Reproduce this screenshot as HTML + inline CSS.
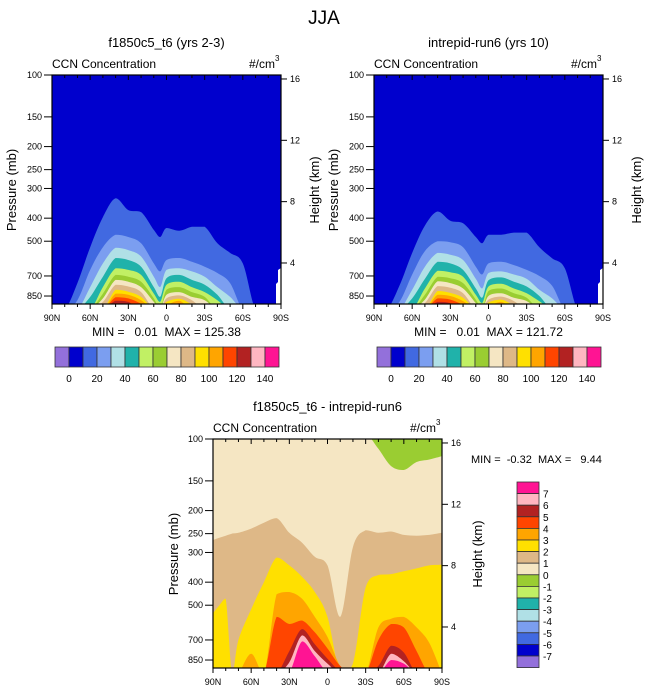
<!DOCTYPE html>
<html><head><meta charset="utf-8"><style>
body{margin:0;background:#fff;}
svg{display:block;font-family:"Liberation Sans",sans-serif;}
svg text{white-space:pre;}
</style></head><body>
<svg id="chart" width="648" height="694" viewBox="0 0 648 694" xmlns="http://www.w3.org/2000/svg">
<text x="324" y="24" text-anchor="middle" font-size="19">JJA</text>
</svg>
<script>
// ---------- data ----------
const latsTop = [90,80,70,60,50,40,30,20,10,5,0,-10,-20,-30,-40,-50,-60,-70,-80,-90];
const levelLabelsTop = ["0","20","40","60","80","100","120","140"];
const colorsTop = ["#9370DB","#0000CD","#4169E1","#7B9EF0","#B0E0E6","#20B2AA","#C1F064","#9ACD32","#F5E6C3","#DEB887","#FFE000","#FFA500","#FF4500","#B22222","#FFB6C1","#FF1493"];
// pressure (mb) of top of region exceeding level 10,20,...,120 ; 1000 = absent
const p1L10 = [1000,1000,750,530,396,330,370,377,448,480,440,452,435,435,510,560,620,1000,1000,1000];
const p1L20 = [1000,1000,885,660,530,470,480,510,620,670,600,588,610,640,680,750,1000,1000,1000,1000];
const p1L30 = [1000,1000,1000,780,620,533,545,580,705,780,660,650,670,705,780,857,1000,1000,1000,1000];
const p1L40 = [1000,1000,1000,857,705,588,600,640,780,857,715,693,727,762,840,1000,1000,1000,1000,1000];
const p1L50 = [1000,1000,1000,1000,780,650,660,693,830,900,762,740,780,818,885,1000,1000,1000,1000,1000];
const p1L60 = [1000,1000,1000,1000,830,693,705,740,870,1000,800,780,818,857,1000,1000,1000,1000,1000,1000];
const p1L70 = [1000,1000,1000,1000,870,727,740,780,900,1000,840,818,857,885,1000,1000,1000,1000,1000,1000];
const p1L80 = [1000,1000,1000,1000,900,762,775,818,1000,1000,870,845,885,1000,1000,1000,1000,1000,1000,1000];
const p1L90 = [1000,1000,1000,1000,1000,800,815,857,1000,1000,900,872,920,1000,1000,1000,1000,1000,1000,1000];
const p1L100 = [1000,1000,1000,1000,1000,830,840,885,1000,1000,930,890,1000,1000,1000,1000,1000,1000,1000,1000];
const p1L110 = [1000,1000,1000,1000,1000,860,870,915,1000,1000,1000,910,1000,1000,1000,1000,1000,1000,1000,1000];
const p1L120 = [1000,1000,1000,1000,1000,890,900,1000,1000,1000,1000,940,1000,1000,1000,1000,1000,1000,1000,1000];

const p2L10 = [1000,1000,770,560,430,375,410,420,480,510,470,470,460,460,530,590,650,1000,1000,1000];
const p2L20 = [1000,1000,900,690,550,500,505,530,640,690,620,610,630,660,700,770,1000,1000,1000,1000];
const p2L30 = [1000,1000,1000,800,640,560,570,600,720,790,680,670,690,720,800,870,1000,1000,1000,1000];
const p2L40 = [1000,1000,1000,870,720,610,620,660,790,865,730,710,740,775,850,1000,1000,1000,1000,1000];
const p2L50 = [1000,1000,1000,1000,790,665,675,705,840,910,775,755,790,828,895,1000,1000,1000,1000,1000];
const p2L60 = [1000,1000,1000,1000,840,705,715,750,880,1000,810,790,828,865,1000,1000,1000,1000,1000,1000];
const p2L70 = [1000,1000,1000,1000,880,737,750,790,910,1000,850,828,865,893,1000,1000,1000,1000,1000,1000];
const p2L80 = [1000,1000,1000,1000,910,772,785,828,1000,1000,880,855,893,1000,1000,1000,1000,1000,1000,1000];
const p2L90 = [1000,1000,1000,1000,1000,810,825,865,1000,1000,905,880,930,1000,1000,1000,1000,1000,1000,1000];
const p2L100 = [1000,1000,1000,1000,1000,840,850,893,1000,1000,940,900,1000,1000,1000,1000,1000,1000,1000,1000];
const p2L110 = [1000,1000,1000,1000,1000,870,880,925,1000,1000,1000,920,1000,1000,1000,1000,1000,1000,1000,1000];
const p2L120 = [1000,1000,1000,1000,1000,900,910,1000,1000,1000,1000,950,1000,1000,1000,1000,1000,1000,1000,1000];

const latsDiff = [90,85,80,75,70,60,50,40,30,20,10,0,-10,-20,-30,-40,-50,-60,-70,-80,-90];
const colorsDiff = ["#9370DB","#0000CD","#4169E1","#7B9EF0","#B0E0E6","#20B2AA","#C1F064","#9ACD32","#F5E6C3","#DEB887","#FFE000","#FFA500","#FF4500","#B22222","#FFB6C1","#FF1493"];
const levelLabelsDiff = ["7","6","5","4","3","2","1","0","-1","-2","-3","-4","-5","-6","-7"];
const dNeg = [90,90,90,90,90,90,90,90,90,90,90,90,90,90,90,110,130,135,125,122,118]; // region < 0 above this pressure
const dL1 = [266,260,255,250,248,238,225,215,248,273,313,340,560,285,242,248,245,253,255,253,248];
const dL2 = [540,500,470,1000,700,520,400,315,340,380,440,560,1000,880,420,373,370,360,350,340,338];
const dL3 = [1000,1000,1000,1000,1000,800,1000,450,440,470,560,680,900,1000,1000,620,570,560,620,720,1000];
const dL4 = [1000,1000,1000,1000,1000,1000,1000,560,600,580,650,760,900,1000,1000,700,600,620,780,1000,1000];
const dL5 = [1000,1000,1000,1000,1000,1000,1000,1000,780,630,730,840,950,1000,1000,900,740,790,1000,1000,1000];
const dL6 = [1000,1000,1000,1000,1000,1000,1000,1000,870,670,780,880,1000,1000,1000,1000,800,860,1000,1000,1000];
const dL7 = [1000,1000,1000,1000,1000,1000,1000,1000,960,710,820,960,1000,1000,1000,1000,850,880,1000,1000,1000];

const pressTicks = [100,150,200,250,300,400,500,700,850];
const kmTicks = [4,8,12,16];
const latTicks = [90,60,30,0,-30,-60,-90];
const latTickLabels = ["90N","60N","30N","0","30S","60S","90S"];

// ---------- drawing ----------
const NS = "http://www.w3.org/2000/svg";
const svg = document.getElementById("chart");
function mk(tag, attrs, parent){const e=document.createElementNS(NS,tag);for(const k in attrs)e.setAttribute(k,attrs[k]);(parent||svg).appendChild(e);return e;}
const PSCALE = 237.8;
let clipId = 0;

function makeAxes(x0,y0,w){
  return {
    x: lat => x0 + (90-lat)/180*w,
    y: p => y0 + PSCALE*Math.log10(p/100),
    yKm: z => y0 + PSCALE*Math.log10(11.18) - PSCALE*z/(6.735*Math.LN10)
  };
}
function smoothPath(pts){
  let d = "M"+pts[0][0]+","+pts[0][1];
  for(let i=0;i<pts.length-1;i++){
    const p0=pts[Math.max(0,i-1)],p1=pts[i],p2=pts[i+1],p3=pts[Math.min(pts.length-1,i+2)];
    const lo=Math.min(p1[1],p2[1]), hi=Math.max(p1[1],p2[1]);
    const c1=[p1[0]+(p2[0]-p0[0])/6, Math.max(lo,Math.min(hi,p1[1]+(p2[1]-p0[1])/6))];
    const c2=[p2[0]-(p3[0]-p1[0])/6, Math.max(lo,Math.min(hi,p2[1]-(p3[1]-p1[1])/6))];
    d+=" C"+c1[0].toFixed(1)+","+c1[1].toFixed(1)+" "+c2[0].toFixed(1)+","+c2[1].toFixed(1)+" "+p2[0].toFixed(1)+","+p2[1].toFixed(1);
  }
  return d;
}
function regionBelow(ax, lats, tops, yTop, yBot, color, g, name){
  const pts = lats.map((l,i)=>[ax.x(l), Math.min(yBot+6, ax.y(tops[i]))]);
  const d = smoothPath(pts) + " L"+ax.x(lats[lats.length-1])+","+(yBot+8)+" L"+ax.x(lats[0])+","+(yBot+8)+" Z";
  const p = mk("path",{d:d,fill:color},g);
  
  
}
function regionAbove(ax, lats, tops, yTop, yBot, color, g, name){
  const pts = lats.map((l,i)=>[ax.x(l), Math.max(yTop-6, ax.y(tops[i]))]);
  const d = smoothPath(pts) + " L"+ax.x(lats[lats.length-1])+","+(yTop-8)+" L"+ax.x(lats[0])+","+(yTop-8)+" Z";
  const p = mk("path",{d:d,fill:color},g);
  
  
}
function clippedGroup(parent,x0,y0,w,h,name){
  const id = "clip"+(clipId++);
  const cp = mk("clipPath",{id:id},parent);
  mk("rect",{x:x0,y:y0,width:w,height:h},cp);
  const g = mk("g",{"clip-path":"url(#"+id+")"},parent);
  
  
  return g;
}
function txt(x,y,s,size,anchor,parent,name,extra){
  const t = mk("text",Object.assign({x:x,y:y,"font-size":size,"text-anchor":anchor||"start"},extra||{}),parent);
  t.textContent = s;
  
  
  return t;
}
function frame(ax,x0,y0,w,h,g,pre){
  const yB = y0+h;
  const r = mk("rect",{x:x0,y:y0,width:w,height:h,fill:"none",stroke:"#000","stroke-width":1.2},g);
  
  
  pressTicks.forEach(p=>{
    const y=ax.y(p);
    mk("line",{x1:x0-8,y1:y,x2:x0,y2:y,stroke:"#000"},g);
    txt(x0-10,y+3,String(p),9,"end",g,pre+'pressure-tick-label');
  });
  kmTicks.forEach(z=>{
    const y=ax.yKm(z);
    mk("line",{x1:x0+w,y1:y,x2:x0+w+6,y2:y,stroke:"#000"},g);
    txt(x0+w+9,y+3,String(z),9,"start",g,pre+'height-tick-label');
  });
  for(let l=90;l>=-90;l-=10){
    const x=ax.x(l), major = l%30===0;
    mk("line",{x1:x,y1:yB,x2:x,y2:yB+(major?5:3),stroke:"#000"},g);
    mk("line",{x1:x,y1:y0,x2:x,y2:y0+(major?5:3),stroke:"#000"},g);
  }
  latTicks.forEach((l,i)=>txt(ax.x(l),yB+17,latTickLabels[i],9,"middle",g,pre+'lat-tick-label'));
}

function topPanel(x0, title, levels, minmax, pre){
  const y0=75,w=229,h=229,yB=y0+h;
  const g = mk("g",{});
  
  
  const ax = makeAxes(x0,y0,w);
  const cg = clippedGroup(g,x0,y0,w,h,pre+'contour-field');
  const bg = mk("rect",{x:x0,y:y0,width:w,height:h,fill:colorsTop[1]},cg);
  
  
  levels.forEach((tops,i)=>regionBelow(ax,latsTop,tops,y0,yB,colorsTop[i+2],cg,pre+'contour-'+((i+1)*10)));
  const wp = mk("polygon",{points:[x0+w-5,yB,x0+w-5,yB-20,x0+w-3,yB-22,x0+w-3,yB-34,x0+w,yB-36,x0+w,yB].join(","),fill:"#fff"},cg);
  
  
  frame(ax,x0,y0,w,h,g,pre);
  txt(x0+w/2,47,title,13,"middle",g,pre+'title');
  txt(x0,68,"CCN Concentration",12,"start",g,pre+'variable-label');
  txt(x0+w-6,68,"#/cm",12,"end",g,pre+'units-label');
  txt(x0+w-6,61,"3",8,"start",g,pre+'units-exponent');
  txt(x0+w/2,336,minmax,12,"middle",g,pre+'min-max-label');
  const tYc = 190, tx = x0-36;
  txt(tx,tYc,"Pressure (mb)",13,"middle",g,pre+'y-axis-title',{transform:"rotate(-90 "+tx+" "+tYc+")"});
  const hx = x0+w+38;
  txt(hx,tYc,"Height (km)",13,"middle",g,pre+'height-axis-title',{transform:"rotate(-90 "+hx+" "+tYc+")"});
  const cbx = x0+3, bw=14;
  colorsTop.forEach((c,i)=>{
    const r = mk("rect",{x:cbx+i*bw,y:347,width:bw,height:20,fill:c,stroke:"#333","stroke-width":0.8},g);
    
    
  });
  levelLabelsTop.forEach((s,i)=>txt(cbx+(1+2*i)*bw,382,s,10,"middle",g,pre+'colorbar-label'));
}
topPanel(52,"f1850c5_t6 (yrs 2-3)",[p1L10,p1L20,p1L30,p1L40,p1L50,p1L60,p1L70,p1L80,p1L90,p1L100,p1L110,p1L120],"MIN =   0.01  MAX = 125.38","panel1-");
topPanel(374,"intrepid-run6 (yrs 10)",[p2L10,p2L20,p2L30,p2L40,p2L50,p2L60,p2L70,p2L80,p2L90,p2L100,p2L110,p2L120],"MIN =   0.01  MAX = 121.72","panel2-");

(function(){
  const x0=213,y0=439,w=229,h=229,yB=y0+h,pre="diff-";
  const g = mk("g",{});
  
  
  const ax = makeAxes(x0,y0,w);
  const cg = clippedGroup(g,x0,y0,w,h,'diff-contour-field');
  const bg = mk("rect",{x:x0,y:y0,width:w,height:h,fill:colorsDiff[8]},cg);
  
  
  regionAbove(ax,latsDiff,dNeg,y0,yB,colorsDiff[7],cg,'diff-contour-neg');
  [dL1,dL2,dL3,dL4,dL5,dL6,dL7].forEach((t,i)=>regionBelow(ax,latsDiff,t,y0,yB,colorsDiff[9+i],cg,'diff-contour-'+(i+1)));
  frame(ax,x0,y0,w,h,g,pre);
  txt(x0+w/2,411,"f1850c5_t6 - intrepid-run6",13,"middle",g,'diff-title');
  txt(x0,432,"CCN Concentration",12,"start",g,'diff-variable-label');
  txt(x0+w-6,432,"#/cm",12,"end",g,'diff-units-label');
  txt(x0+w-6,425,"3",8,"start",g,'diff-units-exponent');
  txt(178,554,"Pressure (mb)",13,"middle",g,'diff-y-axis-title',{transform:"rotate(-90 178 554)"});
  txt(482,554,"Height (km)",13,"middle",g,'diff-height-axis-title',{transform:"rotate(-90 482 554)"});
  txt(471,463,"MIN =  -0.32  MAX =   9.44",11,"start",g,'diff-min-max-label');
  const cbx=517,cby=482,bh=11.6;
  colorsDiff.slice().reverse().forEach((c,i)=>{
    const r = mk("rect",{x:cbx,y:cby+i*bh,width:22,height:bh,fill:c,stroke:"#333","stroke-width":0.8},g);
    
    
  });
  levelLabelsDiff.forEach((s,i)=>txt(cbx+26,cby+(i+1)*bh+4,s,10,"start",g,'diff-colorbar-label'));
})();
</script>
</body></html>
